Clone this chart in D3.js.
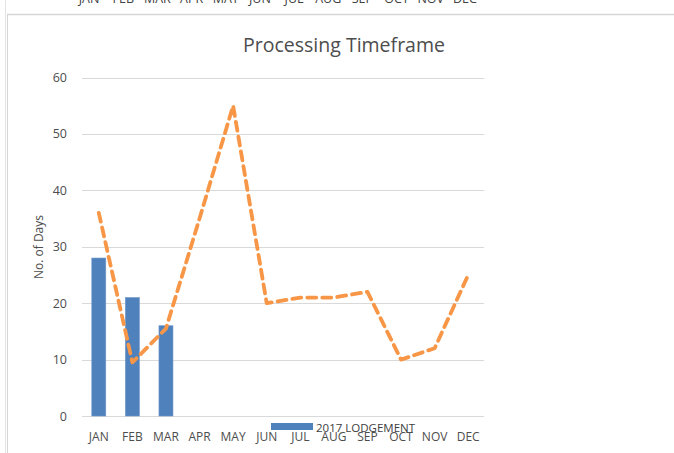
<!DOCTYPE html>
<html>
<head>
<script src="https://d3js.org/d3.v7.min.js"></script>
<style>
body { margin: 0; background: #fff; }
text { font-family: "Open Sans", sans-serif; }
</style>
</head>
<body>
<svg id="chart"></svg>
<script>
var months = ["JAN","FEB","MAR","APR","MAY","JUN","JUL","AUG","SEP","OCT","NOV","DEC"];
var lodgement = [28, 21, 16];
var timeframe = [36, 9.5, 15.5, 35, 55, 20, 21, 21, 22, 10, 12, 25];
var yTicks = [0, 10, 20, 30, 40, 50, 60];

var W = 674, H = 453;
var svg = d3.select("#chart").attr("width", W).attr("height", H);

// frame of the pasted sheet
svg.append("line").attr("x1", 5.5).attr("x2", 5.5).attr("y1", 0).attr("y2", H)
    .attr("stroke", "#e3e3e3");
svg.append("line").attr("x1", 7.5).attr("x2", 7.5).attr("y1", 15).attr("y2", H)
    .attr("stroke", "#d6d6d6");
svg.append("line").attr("x1", 7).attr("x2", W).attr("y1", 14.5).attr("y2", 14.5)
    .attr("stroke", "#d6d6d6").attr("stroke-width", 1.5);

// cut-off axis labels of the chart above
var xTop = d3.scaleBand().domain(months).range([72, 482]);
svg.append("g").selectAll("text").data(months).enter().append("text")
    .attr("x", function(d) { return xTop(d) + xTop.bandwidth() / 2; })
    .attr("y", 3)
    .attr("text-anchor", "middle")
    .attr("font-size", 12.5).attr("fill", "#404040")
    .text(function(d) { return d; });

var x = d3.scaleBand().domain(months).range([82, 485]);
var y = d3.scaleLinear().domain([0, 60]).range([416, 77.5]);

// gridlines
svg.append("g").selectAll("line").data(yTicks).enter().append("line")
    .attr("x1", 82).attr("x2", 484)
    .attr("y1", function(d) { return Math.round(y(d)) + 0.5; })
    .attr("y2", function(d) { return Math.round(y(d)) + 0.5; })
    .attr("stroke", "#d9d9d9");

// y tick labels
svg.append("g").selectAll("text").data(yTicks).enter().append("text")
    .attr("x", 67)
    .attr("y", function(d) { return y(d) + 4.5; })
    .attr("text-anchor", "end")
    .attr("font-size", 12.5).attr("fill", "#4d4d4d")
    .text(function(d) { return d; });

// x tick labels
svg.append("g").selectAll("text").data(months).enter().append("text")
    .attr("x", function(d) { return x(d) + x.bandwidth() / 2; })
    .attr("y", 441)
    .attr("text-anchor", "middle")
    .attr("font-size", 12).attr("fill", "#4d4d4d")
    .text(function(d) { return d; });

// bars
var bw = 14;
svg.append("g").selectAll("rect").data(lodgement).enter().append("rect")
    .attr("x", function(d, i) { return x(months[i]) + x.bandwidth() / 2 - bw / 2; })
    .attr("y", function(d) { return y(d); })
    .attr("width", bw)
    .attr("height", function(d) { return y(0) - y(d); })
    .attr("fill", "#4f81bd")
    .attr("stroke", "#6f97c9").attr("stroke-width", 0.6);

// dashed line
var line = d3.line()
    .x(function(d, i) { return x(months[i]) + x.bandwidth() / 2; })
    .y(function(d) { return y(d); });
svg.append("path").datum(timeframe)
    .attr("d", line)
    .attr("fill", "none")
    .attr("stroke", "#f79646")
    .attr("stroke-width", 3.8)
    .attr("stroke-dasharray", "9,6")
    .attr("stroke-linecap", "round")
    .attr("stroke-linejoin", "round");

// title
svg.append("text")
    .attr("x", 344).attr("y", 52)
    .attr("text-anchor", "middle")
    .attr("font-size", 19.5).attr("fill", "#4d4d4d")
    .text("Processing Timeframe");

// y axis title
svg.append("text")
    .attr("transform", "translate(43,247) rotate(-90)")
    .attr("text-anchor", "middle")
    .attr("font-size", 12).attr("fill", "#4d4d4d")
    .text("No. of Days");

// legend
svg.append("rect").attr("x", 271).attr("y", 423).attr("width", 42).attr("height", 7)
    .attr("fill", "#4f81bd");
svg.append("text")
    .attr("x", 316).attr("y", 432)
    .attr("font-size", 11.5).attr("fill", "#404040")
    .text("2017 LODGEMENT");
</script>
</body>
</html>
